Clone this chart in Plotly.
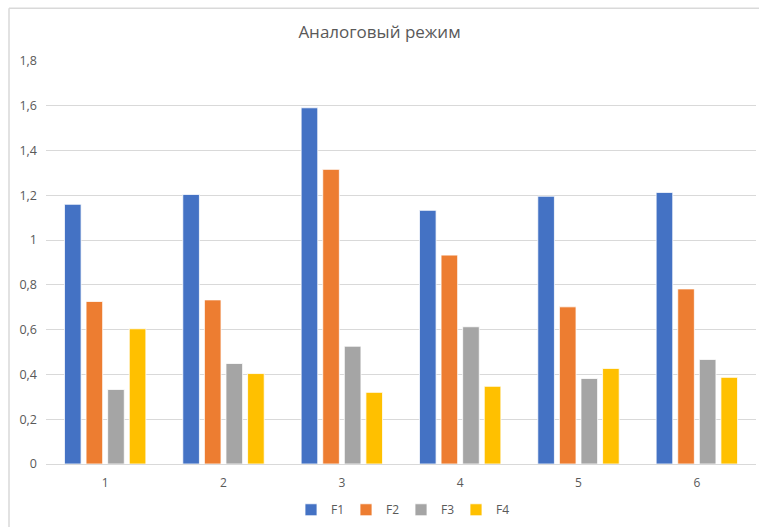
import plotly.graph_objects as go

categories = ["1", "2", "3", "4", "5", "6"]
series_names = ["F1", "F2", "F3", "F4"]
f1 = [1.16, 1.204, 1.591, 1.133, 1.196, 1.213]
f2 = [0.726, 0.733, 1.316, 0.933, 0.702, 0.782]
f3 = [0.333, 0.449, 0.526, 0.613, 0.382, 0.467]
f4 = [0.604, 0.404, 0.32, 0.347, 0.427, 0.387]
colors = ["#4472C4", "#ED7D31", "#A5A5A5", "#FFC000"]
y_tickvals = [0, 0.2, 0.4, 0.6, 0.8, 1.0, 1.2, 1.4, 1.6, 1.8]
y_ticktext = ["0", "0,2", "0,4", "0,6", "0,8", "1", "1,2", "1,4", "1,6", "1,8"]
title_text = "Аналоговый режим"

W, H = 759, 527
L, R, T, B = 46, 3, 61, 61

fig = go.Figure()
for name, vals, c in zip(series_names, [f1, f2, f3, f4], colors):
    fig.add_trace(go.Bar(
        x=categories, y=vals, name=name,
        marker=dict(color=c, line=dict(color="white", width=0.8)),
    ))

pw = W - L - R
ph = H - T - B
bx = (9 - L) / pw
by = (H - B - 8) / ph
fig.add_shape(type="line", xref="paper", yref="paper",
              x0=bx, x1=(W + 5 - L) / pw, y0=by, y1=by,
              line=dict(color="#d9d9d9", width=1.5))
fig.add_shape(type="line", xref="paper", yref="paper",
              x0=bx, x1=bx, y0=by, y1=-(B + 5) / ph,
              line=dict(color="#d9d9d9", width=1.5))

fig.update_layout(
    width=W, height=H,
    margin=dict(l=L, r=R, t=T, b=B),
    paper_bgcolor="white", plot_bgcolor="white",
    font=dict(family="Open Sans, Liberation Sans, sans-serif", color="#595959", size=12),
    title=dict(text=title_text, x=0.5, xref="container", xanchor="center",
               y=1 - 32 / H, yref="container", yanchor="middle",
               font=dict(size=17, color="#595959")),
    barmode="group", bargap=0.27, bargroupgap=0.23,
    showlegend=True,
    legend=dict(orientation="h", x=0.5, xanchor="center", y=-(512 - (H - B)) / ph,
                yanchor="middle", font=dict(size=12, color="#595959"),
                itemwidth=30, traceorder="normal", entrywidth=10),
    xaxis=dict(showline=True, linecolor="#d9d9d9", linewidth=1, ticks="",
               showgrid=False, ticklabelstandoff=8,
               tickfont=dict(size=12, color="#595959")),
    yaxis=dict(range=[0, 1.8], tickvals=y_tickvals, ticktext=y_ticktext,
               showgrid=True, gridcolor="#d9d9d9", gridwidth=1, zeroline=False,
               showline=False, ticks="", ticklabelstandoff=8,
               tickfont=dict(size=12.5, color="#595959")),
)

fig.write_html("out.html")
